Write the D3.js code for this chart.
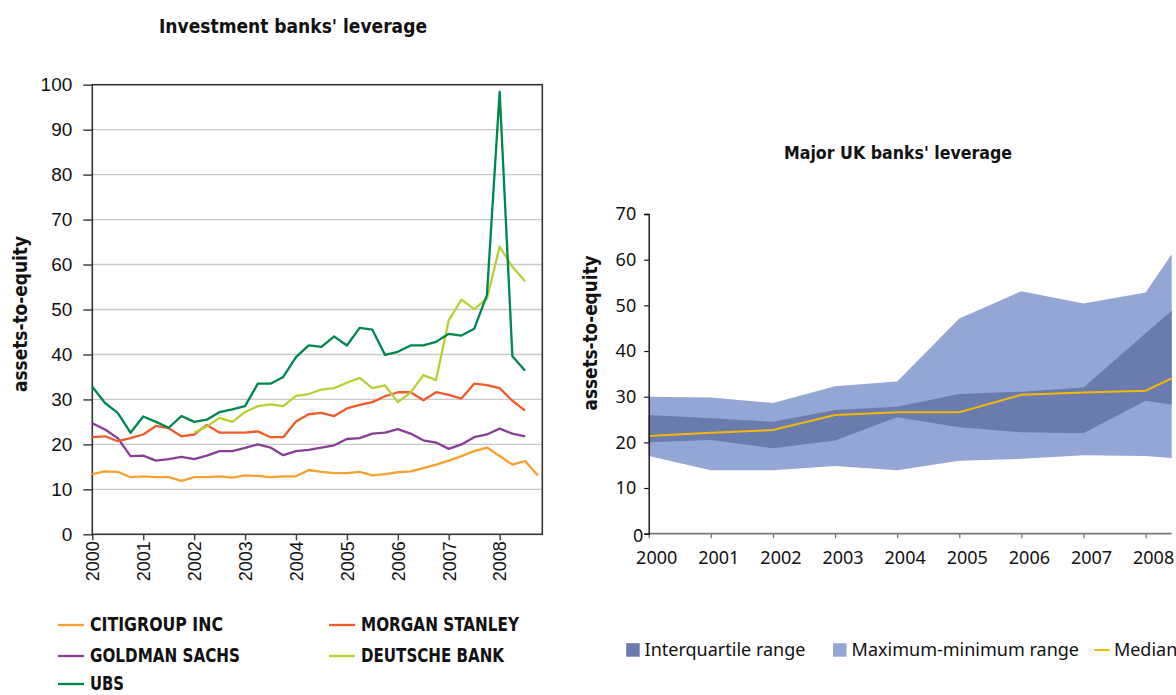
<!DOCTYPE html>
<html><head><meta charset="utf-8">
<script src="https://cdn.jsdelivr.net/npm/d3@7"></script>
<style>
body{margin:0;background:#fff}
svg{display:block}
.cond{font-family:"Liberation Sans Narrow","DejaVu Sans Condensed",sans-serif;font-weight:bold;fill:#111}
.arial{font-family:"Liberation Sans",Arial,sans-serif;fill:#111}
.noto{font-family:"Noto Sans","Open Sans",sans-serif;fill:#111}
</style>
</head><body>
<svg id="c" width="1176" height="695"></svg>
<script>
// ---------- Left chart data (quarterly, index 0 = 2000 Q1) ----------
const yearTickLabels = ["2000","2001","2002","2003","2004","2005","2006","2007","2008"];
const quarterIndex = [0,1,2,3,4,5,6,7,8,9,10,11,12,13,14,15,16,17,18,19,20,21,22,23,24,25,26,27,28,29,30,31,32,33,34,35];
const citigroup = [13.4,14.0,13.9,12.7,12.9,12.7,12.7,11.9,12.7,12.7,12.9,12.6,13.1,13.0,12.7,12.9,12.9,14.3,13.9,13.6,13.6,13.9,13.1,13.4,13.8,14.0,14.7,15.5,16.4,17.4,18.5,19.3,17.4,15.5,16.3,13.1];
const morganStanley = [21.6,21.8,20.7,21.4,22.2,24.1,23.6,21.8,22.2,24.3,22.6,22.6,22.6,22.9,21.6,21.6,25.1,26.7,27.0,26.3,28.0,28.8,29.4,30.7,31.6,31.6,29.8,31.6,31.0,30.2,33.5,33.2,32.5,29.7,27.5];
const goldmanSachs = [24.7,23.3,21.4,17.4,17.5,16.4,16.7,17.2,16.7,17.5,18.5,18.5,19.2,20.0,19.3,17.6,18.5,18.8,19.3,19.8,21.2,21.4,22.4,22.6,23.4,22.4,20.9,20.4,19.0,20.0,21.6,22.2,23.5,22.4,21.8];
const deutscheBank = [null,null,null,null,null,null,null,null,22.6,24.0,25.9,25.0,27.2,28.5,28.9,28.5,30.8,31.2,32.2,32.5,33.7,34.8,32.5,33.1,29.4,31.5,35.4,34.3,47.6,52.2,50.1,52.4,64.0,59.5,56.3];
const ubs = [32.8,29.2,27.0,22.6,26.2,25.0,23.7,26.3,25.0,25.5,27.2,27.8,28.5,33.5,33.5,35.0,39.4,42.0,41.7,44.0,42.0,45.9,45.5,39.9,40.6,42.0,42.0,42.8,44.6,44.2,45.7,53.2,98.4,39.6,36.4];
const leftSeriesNames = ["CITIGROUP INC","MORGAN STANLEY","GOLDMAN SACHS","DEUTSCHE BANK","UBS"];
const leftSeriesColors = ["#F9A12E","#F15A2B","#8A3D97","#B8D035","#00864F"];
const leftYTicks = [0,10,20,30,40,50,60,70,80,90,100];

// ---------- Right chart data (annual; last point = latest 2008 reading) ----------
const ukPeriods = [2000,2001,2002,2003,2004,2005,2006,2007,2008,2008.42];
const ukTickYears = [2000,2001,2002,2003,2004,2005,2006,2007,2008];
const ukMax    = [30.0,29.8,28.6,32.3,33.3,47.1,53.1,50.4,52.8,61.2];
const ukUpperQ = [26.0,25.3,24.5,27.1,27.8,30.6,31.1,32.0,43.9,48.8];
const ukLowerQ = [20.0,20.5,18.7,20.4,25.5,23.3,22.2,22.0,29.1,28.3];
const ukMin    = [17.0,13.9,13.9,14.8,13.9,16.0,16.4,17.2,17.0,16.6];
const ukMedian = [21.4,22.1,22.7,26.0,26.6,26.6,30.4,30.9,31.3,34.0];
const ukYTicks = [0,10,20,30,40,50,60,70];
const ukLegend = ["Interquartile range","Maximum-minimum range","Median"];
const ukColors = {iqr:"#6A7BAD", range:"#94A6D3", median:"#F5B800"};

const svg = d3.select("#c");

// ================= LEFT CHART =================
const L = {x0:92.3, x1:542.3, y0:534.3, y1:84.7};
const lx = d3.scaleLinear().domain([0,35.35]).range([L.x0,L.x1]);
const ly = d3.scaleLinear().domain([0,100]).range([L.y0,L.y1]);

svg.append("text").attr("class","cond").attr("x",293).attr("y",33)
  .attr("text-anchor","middle").style("font-size","19px").text("Investment banks' leverage");

svg.append("g").selectAll("line").data(leftYTicks.filter(d=>d>0&&d<100)).join("line")
  .attr("x1",L.x0).attr("x2",L.x1).attr("y1",d=>ly(d)).attr("y2",d=>ly(d))
  .attr("stroke","#c9c9c9").attr("stroke-width",1.4);

const lyAxis = svg.append("g").attr("transform",`translate(${L.x0},0)`)
  .call(d3.axisLeft(ly).tickValues(leftYTicks).tickSize(9).tickPadding(11));
lyAxis.select(".domain").remove();
lyAxis.selectAll(".tick line").attr("stroke","#444").attr("stroke-width",1.5);
lyAxis.selectAll("text").attr("class","arial").style("font-size","19px").attr("fill","#111");

const lxAxis = svg.append("g").attr("transform",`translate(0,${L.y0})`)
  .call(d3.axisBottom(lx).tickValues(yearTickLabels.map((d,i)=>i*4)).tickFormat((d,i)=>yearTickLabels[i]).tickSize(6));
lxAxis.select(".domain").remove();
lxAxis.selectAll(".tick line").attr("stroke","#444").attr("stroke-width",1.5);
lxAxis.selectAll("text").attr("class","arial").style("font-size","18px").attr("fill","#111")
  .attr("text-anchor","end").attr("transform","rotate(-90)").attr("x",-7).attr("y",0).attr("dy","0.35em");

svg.append("rect").attr("x",L.x0).attr("y",L.y1).attr("width",L.x1-L.x0).attr("height",L.y0-L.y1)
  .attr("fill","none").attr("stroke","#333").attr("stroke-width",1.6);

const leftSeries = [citigroup, morganStanley, goldmanSachs, deutscheBank, ubs];
const lline = d3.line().defined(d=>d!=null).x((d,i)=>lx(quarterIndex[i])).y(d=>ly(d));
[0,2,1,3,4].forEach(k=>{
  svg.append("path").datum(leftSeries[k]).attr("d",lline)
    .attr("fill","none").attr("stroke",leftSeriesColors[k]).attr("stroke-width",2.3)
    .attr("stroke-linejoin","round");
});

svg.append("text").attr("class","cond").style("font-size","20px")
  .attr("transform","translate(27,314) rotate(-90)").attr("text-anchor","middle")
  .attr("textLength",156).attr("lengthAdjust","spacingAndGlyphs").text("assets-to-equity");

const legPos = [[58,625],[329,625],[58,656],[329,656],[58,684]];
const legWidths = [133,158,150,143,34];
leftSeriesNames.forEach((n,k)=>{
  const [x,y] = legPos[k];
  svg.append("line").attr("x1",x).attr("x2",x+26).attr("y1",y).attr("y2",y)
    .attr("stroke",leftSeriesColors[k]).attr("stroke-width",2.3);
  svg.append("text").attr("class","cond").style("font-size","20px").attr("x",x+32).attr("y",y+6)
    .attr("textLength",legWidths[k]).attr("lengthAdjust","spacingAndGlyphs").text(n);
});

// ================= RIGHT CHART =================
const R = {x0:648.7, x1:1171.7, y0:533.7, y1:214};
const rx = d3.scaleLinear().domain([2000,2008.42]).range([R.x0,R.x1]);
const ry = d3.scaleLinear().domain([0,70]).range([R.y0,R.y1]);

svg.append("text").attr("class","cond").attr("x",898).attr("y",159)
  .attr("text-anchor","middle").style("font-size","17.6px").text("Major UK banks' leverage");

const rangeArea = d3.area().x((d,i)=>rx(ukPeriods[i])).y0((d,i)=>ry(ukMin[i])).y1(d=>ry(d));
svg.append("path").datum(ukMax).attr("d",rangeArea).attr("fill",ukColors.range);
const iqrArea = d3.area().x((d,i)=>rx(ukPeriods[i])).y0((d,i)=>ry(ukLowerQ[i])).y1(d=>ry(d));
svg.append("path").datum(ukUpperQ).attr("d",iqrArea).attr("fill",ukColors.iqr);
const medLine = d3.line().x((d,i)=>rx(ukPeriods[i])).y(d=>ry(d));
svg.append("path").datum(ukMedian).attr("d",medLine).attr("fill","none")
  .attr("stroke",ukColors.median).attr("stroke-width",2);

const rxAxis = svg.append("g").attr("transform",`translate(0,${R.y0})`)
  .call(d3.axisBottom(rx).tickValues(ukTickYears).tickFormat(d3.format("d")).tickSize(4.5).tickPadding(13));
rxAxis.select(".domain").attr("stroke","#777").attr("stroke-width",1.8).attr("d",`M${R.x0},0H${R.x1}`);
rxAxis.selectAll(".tick line").attr("stroke","#777").attr("stroke-width",1.3);
rxAxis.selectAll("text").attr("class","noto").style("font-size","18px").attr("fill","#111").attr("x",7.5);

const ryAxis = svg.append("g").attr("transform",`translate(${R.x0},0)`)
  .call(d3.axisLeft(ry).tickValues(ukYTicks).tickSize(4.5).tickPadding(8));
ryAxis.select(".domain").attr("stroke","#111").attr("stroke-width",1.4);
ryAxis.selectAll(".tick line").attr("stroke","#111").attr("stroke-width",1.2);
ryAxis.selectAll("text").attr("class","noto").style("font-size","18px").attr("fill","#111");
ryAxis.selectAll(".tick").filter(d=>d===0).select("text").attr("x",-5.5).attr("dy","0.42em");

svg.append("text").attr("class","cond").style("font-size","20px")
  .attr("transform","translate(597,333) rotate(-90)").attr("text-anchor","middle")
  .attr("textLength",155).attr("lengthAdjust","spacingAndGlyphs").text("assets-to-equity");

svg.append("rect").attr("x",626.2).attr("y",643.2).attr("width",13.5).attr("height",13.5).attr("fill",ukColors.iqr);
svg.append("text").attr("class","noto").style("font-size","18px").attr("x",644.6).attr("y",656).text(ukLegend[0]);
svg.append("rect").attr("x",833).attr("y",643.2).attr("width",13.5).attr("height",13.5).attr("fill",ukColors.range);
svg.append("text").attr("class","noto").style("font-size","18px").attr("x",851.6).attr("y",656).text(ukLegend[1]);
svg.append("line").attr("x1",1094.5).attr("x2",1109.5).attr("y1",650).attr("y2",650).attr("stroke",ukColors.median).attr("stroke-width",2);
svg.append("text").attr("class","noto").style("font-size","18px").attr("x",1113.9).attr("y",656).text(ukLegend[2]);
</script>
</body></html>
